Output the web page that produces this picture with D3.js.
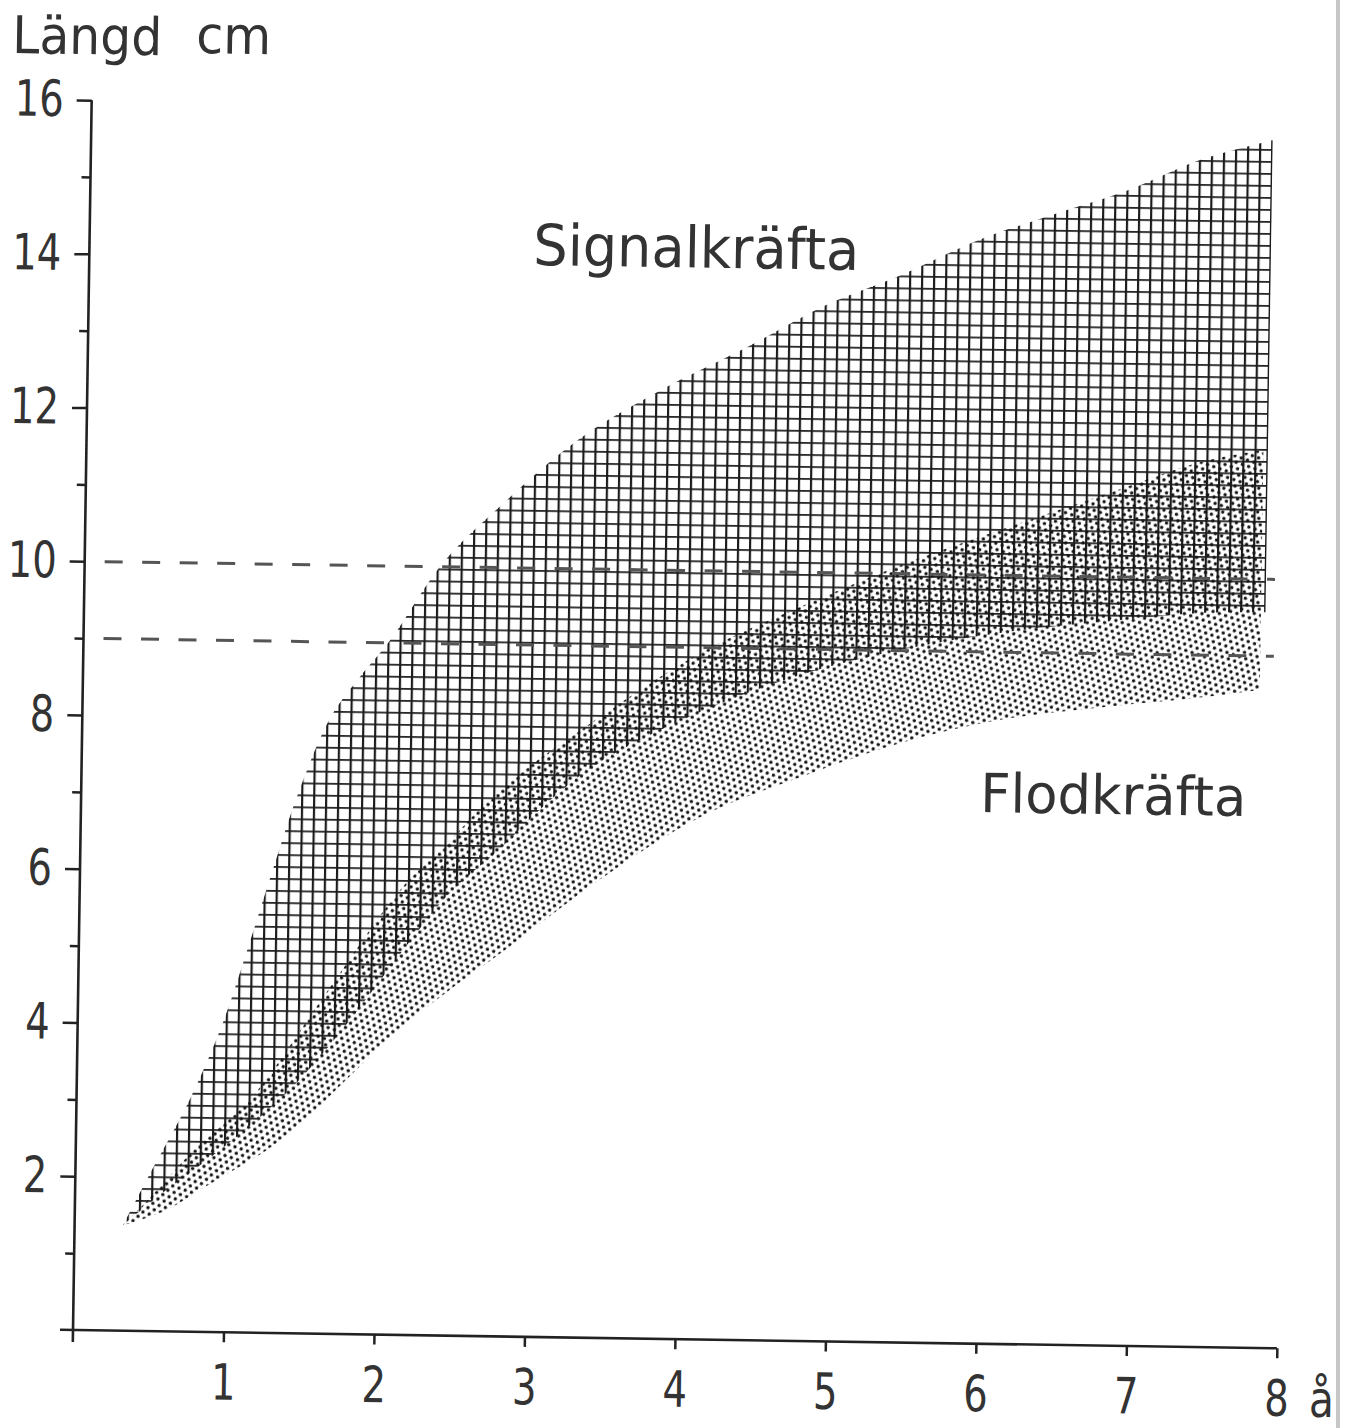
<!DOCTYPE html>
<html>
<head>
<meta charset="utf-8">
<script src="https://cdn.jsdelivr.net/npm/d3@7"></script>
<style>
  body { margin: 0; background: #fff; }
  svg { display: block; }
  text { font-family: "DejaVu Sans", sans-serif; fill: #333; }
</style>
</head>
<body>
<div id="chart"></div>
<script>
// values (years, cm)
var signalUpperYear = [0.32, 0.48, 0.75, 0.96, 1.12, 1.28, 1.45, 1.65, 1.84, 2.04, 2.38, 2.75, 3.26, 3.81, 4.40, 4.90, 5.39, 5.90, 6.38, 6.89, 7.37, 7.85];
var signalUpperLen  = [1.37, 1.99, 3.01, 4.00, 4.98, 6.02, 7.07, 8.02, 8.55, 9.04, 10.05, 10.79, 11.67, 12.34, 12.94, 13.48, 13.88, 14.35, 14.69, 15.03, 15.44, 15.71];

var signalLowerYear = [0.32, 0.56, 0.83, 1.16, 1.48, 1.81, 2.13, 2.46, 2.79, 3.12, 3.44, 4.10, 4.76, 5.43, 6.09, 6.75, 7.42, 7.85];
var signalLowerLen  = [1.37, 1.77, 2.17, 2.70, 3.30, 4.09, 4.94, 5.76, 6.35, 6.99, 7.49, 8.16, 8.66, 9.01, 9.25, 9.41, 9.55, 9.57];

var flodUpperYear = [0.32, 0.50, 0.83, 1.15, 1.64, 2.13, 2.46, 2.78, 3.44, 4.10, 4.76, 5.42, 6.08, 6.74, 7.40, 7.82];
var flodUpperLen  = [1.37, 1.74, 2.46, 3.03, 4.41, 5.79, 6.45, 7.11, 8.08, 8.93, 9.55, 10.11, 10.59, 11.05, 11.51, 11.68];

var flodLowerYear = [0.32, 0.61, 0.83, 1.05, 1.27, 1.49, 1.81, 2.14, 2.47, 2.80, 3.46, 4.11, 4.77, 5.44, 6.10, 6.76, 7.42, 7.82];
var flodLowerLen  = [1.37, 1.58, 1.85, 2.11, 2.38, 2.72, 3.35, 3.98, 4.50, 4.98, 5.97, 6.79, 7.33, 7.80, 8.12, 8.30, 8.45, 8.56];

var dashedLevels = [10, 9];
var xTicks = [1, 2, 3, 4, 5, 6, 7, 8];
var yMajor = [2, 4, 6, 8, 10, 12, 14, 16];
var yMinor = [1, 3, 5, 7, 9, 11, 13, 15];

var W = 1357, H = 1428;
var tilt = 0.87; // the scan is slightly rotated

var svg = d3.select("#chart").append("svg")
    .attr("width", W)
    .attr("height", H);

svg.append("rect").attr("width", W).attr("height", H).attr("fill", "#fff");

// paper edge on the right
svg.append("rect")
    .attr("x", 1336).attr("y", 0).attr("width", 4).attr("height", H)
    .attr("fill", "#c6c6c6");

var defs = svg.append("defs");

var grid = defs.append("pattern")
    .attr("id", "grid")
    .attr("patternUnits", "userSpaceOnUse")
    .attr("x", 4).attr("y", 1)
    .attr("width", 12).attr("height", 12);
grid.append("rect").attr("x", 0).attr("y", 0).attr("width", 12).attr("height", 1.8).attr("fill", "#262626");
grid.append("rect").attr("x", 0).attr("y", 0).attr("width", 2.2).attr("height", 12).attr("fill", "#1c1c1c");

var dots = defs.append("pattern")
    .attr("id", "dots")
    .attr("patternUnits", "userSpaceOnUse")
    .attr("patternTransform", "rotate(18)")
    .attr("width", 6.6).attr("height", 11.43);
dots.append("circle").attr("cx", 1.65).attr("cy", 2.86).attr("r", 1.7).attr("fill", "#141414");
dots.append("circle").attr("cx", 4.95).attr("cy", 8.57).attr("r", 1.7).attr("fill", "#141414");

var x = d3.scaleLinear().domain([0, 8]).range([0, 1204]);
var y = d3.scaleLinear().domain([0, 16]).range([0, -1230]);

var g = svg.append("g")
    .attr("transform", "translate(73,1330) rotate(" + tilt + ")");

function pts(xs, ys) {
  return xs.map(function(d, i) { return [d, ys[i]]; });
}

var line = d3.line()
    .x(function(d) { return x(d[0]); })
    .y(function(d) { return y(d[1]); })
    .curve(d3.curveCatmullRom.alpha(0.5));

function band(upper, lower) {
  var top = line(upper);
  var bottom = line(lower.slice().reverse());
  return top + "L" + bottom.slice(1) + "Z";
}

var signalUpper = pts(signalUpperYear, signalUpperLen);
var signalLower = pts(signalLowerYear, signalLowerLen);
var flodUpper = pts(flodUpperYear, flodUpperLen);
var flodLower = pts(flodLowerYear, flodLowerLen);

g.append("path")
    .attr("class", "signal")
    .attr("d", band(signalUpper, signalLower))
    .attr("fill", "url(#grid)");

g.append("path")
    .attr("class", "flod")
    .attr("d", band(flodUpper, flodLower))
    .attr("fill", "url(#dots)");

// dashed reference lines
g.selectAll(".ref")
    .data(dashedLevels)
    .enter().append("line")
    .attr("class", "ref")
    .attr("x1", 20)
    .attr("x2", x(7.91))
    .attr("y1", function(d) { return y(d); })
    .attr("y2", function(d) { return y(d); })
    .attr("stroke", "#555")
    .attr("stroke-width", 3)
    .attr("stroke-dasharray", "18,19.5");

// axes
var yAxis = g.append("g")
    .call(d3.axisLeft(y).tickValues(yMajor).tickSize(15).tickPadding(13).tickSizeOuter(0));
var yAxisMinor = g.append("g")
    .call(d3.axisLeft(y).tickValues(yMinor).tickSize(9).tickFormat("").tickSizeOuter(0));
var xAxis = g.append("g")
    .call(d3.axisBottom(x).tickValues(xTicks).tickSize(10).tickPadding(22).tickSizeOuter(0));

[yAxis, yAxisMinor, xAxis].forEach(function(a) {
  a.select(".domain").remove();
  a.selectAll(".tick line").attr("stroke", "#222").attr("stroke-width", 2.5);
  a.selectAll(".tick text")
      .style("font-family", "DejaVu Sans, sans-serif")
      .style("font-size", "50px")
      .attr("fill", "#333")
      .attr("textLength", function() { return this.textContent.length * 24.5; })
      .attr("lengthAdjust", "spacingAndGlyphs");
});

g.append("line")
    .attr("x1", 0).attr("x2", 0)
    .attr("y1", y(16)).attr("y2", 12)
    .attr("stroke", "#222").attr("stroke-width", 2.6);

g.append("line")
    .attr("x1", -13).attr("x2", x(8))
    .attr("y1", 0).attr("y2", 0)
    .attr("stroke", "#222").attr("stroke-width", 2.6);

g.append("text")
    .attr("x", x(8) + 33)
    .attr("y", 68)
    .attr("font-size", 50)
    .attr("textLength", 25)
    .attr("lengthAdjust", "spacingAndGlyphs")
    .text("å");

// labels
function label(txt, px, py, size, len) {
  svg.append("text")
      .attr("x", px).attr("y", py)
      .attr("font-size", size)
      .attr("textLength", len)
      .attr("lengthAdjust", "spacingAndGlyphs")
      .attr("transform", "rotate(" + tilt + "," + px + "," + py + ")")
      .text(txt);
}

label("Längd", 12, 53, 52, 150);
label("cm", 196, 53, 52, 75);
label("Signalkräfta", 533, 265, 57, 326);
label("Flodkräfta", 980, 812, 54, 266);
</script>
</body>
</html>
